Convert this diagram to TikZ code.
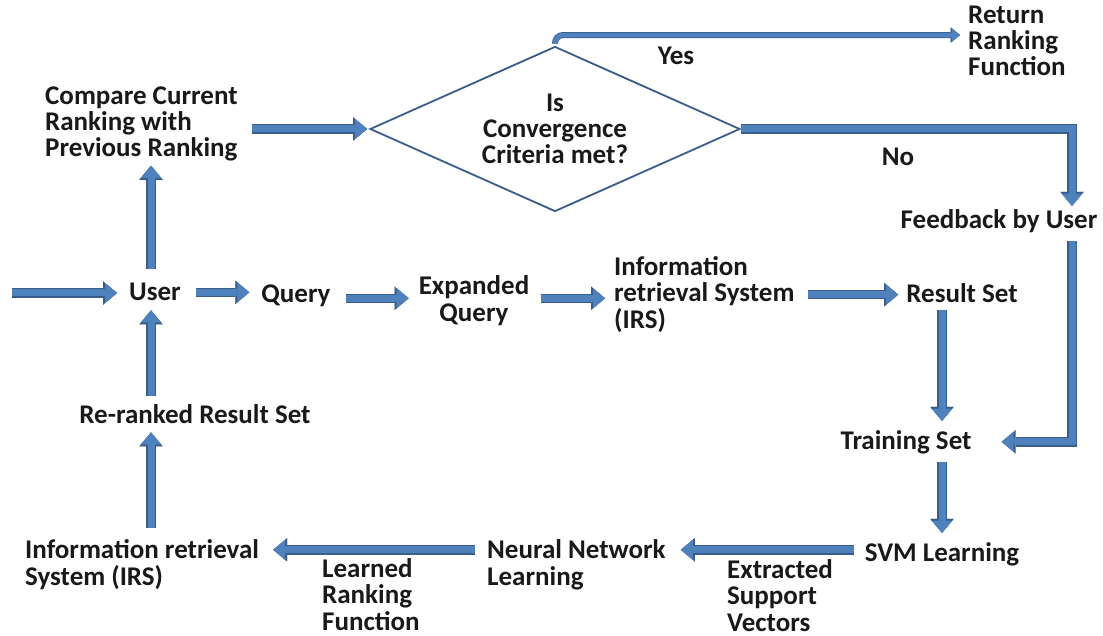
\documentclass[tikz,border=0pt]{standalone}
\usepackage{fontspec}
\setmainfont{Carlito}
\usetikzlibrary{arrows.meta,shapes.geometric,calc}
\definecolor{flowfill}{HTML}{4F81BD}
\definecolor{flowedge}{HTML}{385D8A}
\tikzset{
	lbl/.style={inner sep=0pt, font=\fontsize{27}{26.3}\selectfont\bfseries, text=black!90},
	flow/.style={draw=flowfill, line width=7pt, -{Triangle[length=12pt,width=20pt,line width=0.01pt]},
		preaction={draw=flowedge, line width=9.5pt, -{Triangle[length=14pt,width=23.5pt,line width=0.01pt]}}},
	thinflow/.style={draw=flowfill, line width=4.5pt, rounded corners=8pt, -{Triangle[length=8pt,width=13pt,line width=0.01pt]},
		preaction={draw=flowedge, line width=6pt, -{Triangle[length=9.5pt,width=15.5pt,line width=0.01pt]}}}
}

\begin{document}
\begin{tikzpicture}[x=1pt, y=-1pt]
			%%%%% START %%%%%
			\useasboundingbox (0,0) rectangle (1103,636);
			
			\node[lbl, anchor=base] (user) at (155,301) {User};
			\node[lbl, anchor=base] (query) at (296,302) {Query};
			\node[lbl, anchor=base, align=center] (expq) at (474,321) {Expanded\\Query};
			\node[lbl, anchor=base west, align=left] (irs) at (614,328) {Information\\retrieval System\\(IRS)};
			\node[lbl, anchor=base] (result) at (962,302) {Result Set};
			\node[lbl, anchor=base] (train) at (906,449) {Training Set};
			\node[lbl, anchor=base] (svm) at (942,561) {SVM Learning};
			\node[lbl, anchor=base west, align=left] (neural) at (487,585) {Neural Network\\Learning};
			\node[lbl, anchor=base west, align=left] (irs2) at (25,585) {Information retrieval\\System (IRS)};
			\node[lbl, anchor=base] (rerank) at (195,423) {Re-ranked Result Set};
			\node[lbl, anchor=base west, align=left] (compare) at (45,157) {Compare Current\\Ranking with\\Previous Ranking};
			
			\node[lbl, draw=flowedge, line width=1.8pt, diamond, aspect=2.2, minimum width=370pt, minimum height=165pt, align=center] (conv) at (555,129) {Is\\Convergence\\Criteria met?};
			
			\node[lbl, anchor=base] (yes) at (676,65) {Yes};
			\node[lbl, anchor=base west, align=left] (ret) at (968,76) {Return\\Ranking\\Function};
			\node[lbl, anchor=base] (no) at (898,166) {No};
			\node[lbl, anchor=base] (feedback) at (999,229) {Feedback by User};
			\node[lbl, anchor=base west, align=left] (esv) at (727,631) {Extracted\\Support\\Vectors};
			\node[lbl, anchor=base west, align=left] (lrf) at (322,630) {Learned\\Ranking\\Function};
			
			\coordinate (entry) at (12,293);
			
			\draw[flow, shorten >=12pt] (entry) -- (entry -| user.west);
			\draw[flow, shorten <=15pt, shorten >=12pt] (user.east) -- (user.east -| query.west);
			\draw[flow, shorten <=15pt, shorten >=10pt] ([yshift=-3pt]query.east) -- ([yshift=-3pt]query.east -| expq.west);
			\draw[flow, shorten <=12pt, shorten >=9pt] ([yshift=-3pt]query.east -| expq.east) -- ([yshift=-3pt]query.east -| irs.west);
			\draw[flow, shorten <=13pt, shorten >=8pt] ([yshift=-2pt]result.west -| irs.east) -- ([yshift=-2pt]result.west);
			
			\draw[flow, shorten <=8pt, shorten >=9pt] (result.south -| svm.north) -- (train.north -| svm.north);
			\draw[flow, shorten <=8pt, shorten >=9pt] (train.south -| svm.north) -- (svm.north);
			
			\draw[flow, shorten <=11pt, shorten >=15pt] ([yshift=4pt]svm.west) -- ([yshift=4pt]svm.west -| neural.east);
			\draw[flow, shorten <=12pt, shorten >=14pt] ([yshift=4pt]svm.west -| neural.west) -- ([yshift=4pt]svm.west -| irs2.east);
			
			\draw[flow, shorten <=12pt, shorten >=9pt] ([xshift=-4pt]irs2.north -| user.south) -- ([xshift=-4pt]rerank.south -| user.south);
			\draw[flow, shorten <=8pt, shorten >=9pt] ([xshift=-4pt]rerank.north -| user.south) -- ([xshift=-4pt]user.south);
			\draw[flow, shorten <=14pt, shorten >=4pt] ([xshift=-4pt]user.north) -- ([xshift=-4pt]compare.south -| user.north);
			\draw[flow, shorten <=14pt, shorten >=2pt] (compare.east |- conv.west) -- (conv.west);
			
			\draw[flow, shorten >=4pt] (conv.east) -| ([xshift=73pt]feedback.north);
			\draw[flow, shorten <=8pt, shorten >=30pt] ([xshift=73pt]feedback.south) |- (train.east);
			\draw[thinflow, shorten <=2pt, shorten >=8pt] (conv.north) |- ([yshift=6pt]ret.west);
			
			%%%%% END %%%%%
\end{tikzpicture}
\end{document}
